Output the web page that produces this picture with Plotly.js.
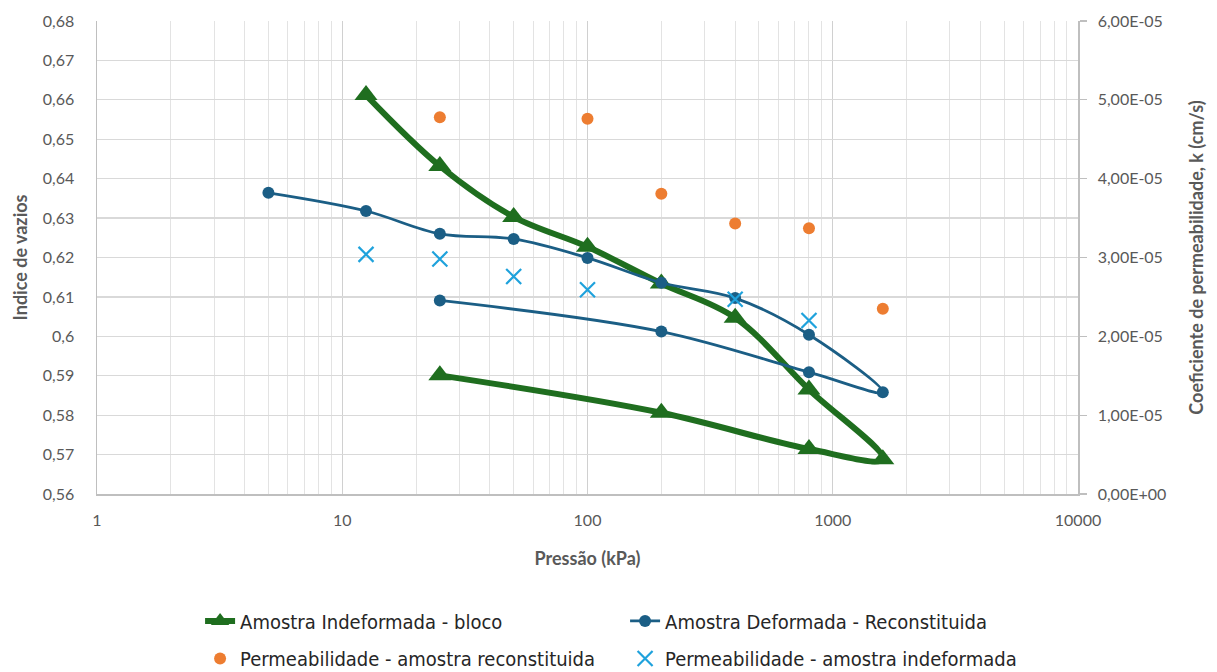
<!DOCTYPE html>
<html>
<head>
<meta charset="utf-8">
<script src="https://cdn.plot.ly/plotly-3.0.1.min.js"></script>
<style>
  html, body { margin: 0; padding: 0; background: #ffffff; }
  #chart { width: 1217px; height: 672px; }
</style>
</head>
<body>
<div id="chart"></div>
<script>
// Pressão (kPa) e índice de vazios - Amostra Indeformada (bloco)
const indefPressure = [12.5, 25, 50, 100, 200, 400, 800, 1600, 800, 200, 25];
const indefVoid = [0.6612, 0.6432, 0.6303, 0.6227, 0.6134, 0.6047, 0.5865, 0.5688, 0.5714, 0.5806, 0.5901];

// Amostra Deformada - Reconstituida
const defPressure = [5, 12.5, 25, 50, 100, 200, 400, 800, 1600, 800, 200, 25];
const defVoid = [0.6364, 0.6318, 0.6260, 0.6247, 0.6199, 0.6136, 0.6097, 0.6004, 0.5858, 0.5909, 0.6012, 0.6091];

// Permeabilidade - amostra reconstituida (cm/s)
const permRecPressure = [25, 100, 200, 400, 800, 1600];
const permRecK = [4.78e-5, 4.76e-5, 3.81e-5, 3.43e-5, 3.37e-5, 2.35e-5];

// Permeabilidade - amostra indeformada (cm/s)
const permIndefPressure = [12.5, 25, 50, 100, 400, 800];
const permIndefK = [3.04e-5, 2.98e-5, 2.76e-5, 2.59e-5, 2.47e-5, 2.20e-5];

// Tick labels
const xTickVals = [1, 10, 100, 1000, 10000];
const xTickText = ['1', '10', '100', '1000', '10000'];
const yTickVals = [0.56, 0.57, 0.58, 0.59, 0.60, 0.61, 0.62, 0.63, 0.64, 0.65, 0.66, 0.67, 0.68];
const yTickText = ['0,56', '0,57', '0,58', '0,59', '0,6', '0,61', '0,62', '0,63', '0,64', '0,65', '0,66', '0,67', '0,68'];
const y2TickVals = [0, 1e-5, 2e-5, 3e-5, 4e-5, 5e-5, 6e-5];
const y2TickText = ['0,00E+00', '1,00E-05', '2,00E-05', '3,00E-05', '4,00E-05', '5,00E-05', '6,00E-05'];

// minor log gridlines
const minorVals = [];
[1, 10, 100, 1000].forEach(function (d) {
  for (let m = 2; m <= 9; m++) minorVals.push(d * m);
});

const gray = '#595959';
const tickFont = { family: 'Lato, Roboto, sans-serif', size: 16, color: gray };
const titleFont = { family: 'Lato, Roboto, sans-serif', size: 18, color: gray, weight: 'bold' };
const legendFont = { family: '"Liberation Sans Narrow", "DejaVu Sans Condensed", sans-serif', size: 20, color: '#262626' };

const traces = [
  {
    x: indefPressure, y: indefVoid, type: 'scatter', mode: 'lines+markers',
    name: 'Amostra Indeformada - bloco',
    line: { color: '#1f6e1f', width: 6, shape: 'spline' },
    marker: { symbol: 'triangle-up', size: 20, color: '#1f6e1f' },
    legend: 'legend'
  },
  {
    x: defPressure, y: defVoid, type: 'scatter', mode: 'lines+markers',
    name: 'Amostra Deformada - Reconstituida',
    line: { color: '#1b5e85', width: 2.8, shape: 'spline' },
    marker: { symbol: 'circle', size: 12, color: '#1b5e85' },
    legend: 'legend'
  },
  {
    x: permRecPressure, y: permRecK, type: 'scatter', mode: 'markers', yaxis: 'y2',
    name: 'Permeabilidade - amostra reconstituida',
    marker: { symbol: 'circle', size: 12, color: '#ed7d31' },
    legend: 'legend2'
  },
  {
    x: permIndefPressure, y: permIndefK, type: 'scatter', mode: 'markers', yaxis: 'y2',
    name: 'Permeabilidade - amostra indeformada',
    marker: { symbol: 'x-thin-open', size: 15, color: '#1fa2dc', line: { color: '#1fa2dc', width: 2.2 } },
    legend: 'legend2'
  }
];

const layout = {
  width: 1217, height: 672,
  paper_bgcolor: '#ffffff', plot_bgcolor: '#ffffff',
  margin: { l: 97, r: 139, t: 21, b: 178 },
  showlegend: true,
  xaxis: {
    type: 'log', range: [0, 4],
    tickvals: xTickVals, ticktext: xTickText,
    tickfont: tickFont, ticks: '', ticklabelstandoff: 11,
    showgrid: true, gridcolor: '#d0d0d0', gridwidth: 1.3,
    minor: { tickvals: minorVals, showgrid: true, gridcolor: '#e3e3e3', gridwidth: 1, ticks: '' },
    showline: true, linecolor: '#bfbfbf', linewidth: 1.5,
    zeroline: false,
    title: { text: 'Pressão (kPa)', font: titleFont, standoff: 24 },
    automargin: false
  },
  yaxis: {
    range: [0.56, 0.68],
    tickvals: yTickVals, ticktext: yTickText,
    tickfont: tickFont, ticks: '', ticklabelstandoff: 18,
    showgrid: true, gridcolor: '#d9d9d9', gridwidth: 1.3,
    showline: true, linecolor: '#bfbfbf', linewidth: 1.5,
    zeroline: false,
    title: { text: 'Indice de vazios', font: titleFont, standoff: 10 },
    automargin: false
  },
  yaxis2: {
    overlaying: 'y', side: 'right',
    range: [0, 6e-5],
    tickvals: y2TickVals, ticktext: y2TickText,
    tickfont: tickFont, ticks: 'outside', ticklen: 7, tickcolor: '#bfbfbf', tickwidth: 1.3,
    ticklabelstandoff: 8,
    showgrid: false,
    showline: true, linecolor: '#bfbfbf', linewidth: 1.5,
    zeroline: false,
    title: { text: 'Coeficiente de permeabilidade, k (cm/s)', font: titleFont, standoff: 25 },
    automargin: false
  },
  legend: {
    orientation: 'h', xref: 'container', yref: 'container',
    x: 0.1644, xanchor: 'left', y: 0.076, yanchor: 'middle',
    font: legendFont, entrywidth: 380, bgcolor: 'rgba(0,0,0,0)'
  },
  legend2: {
    orientation: 'h', xref: 'container', yref: 'container',
    x: 0.1644, xanchor: 'left', y: 0.02, yanchor: 'middle',
    font: legendFont, entrywidth: 380, bgcolor: 'rgba(0,0,0,0)'
  }
};

Plotly.newPlot('chart', traces, layout, { displayModeBar: false, staticPlot: true });
</script>
</body>
</html>
